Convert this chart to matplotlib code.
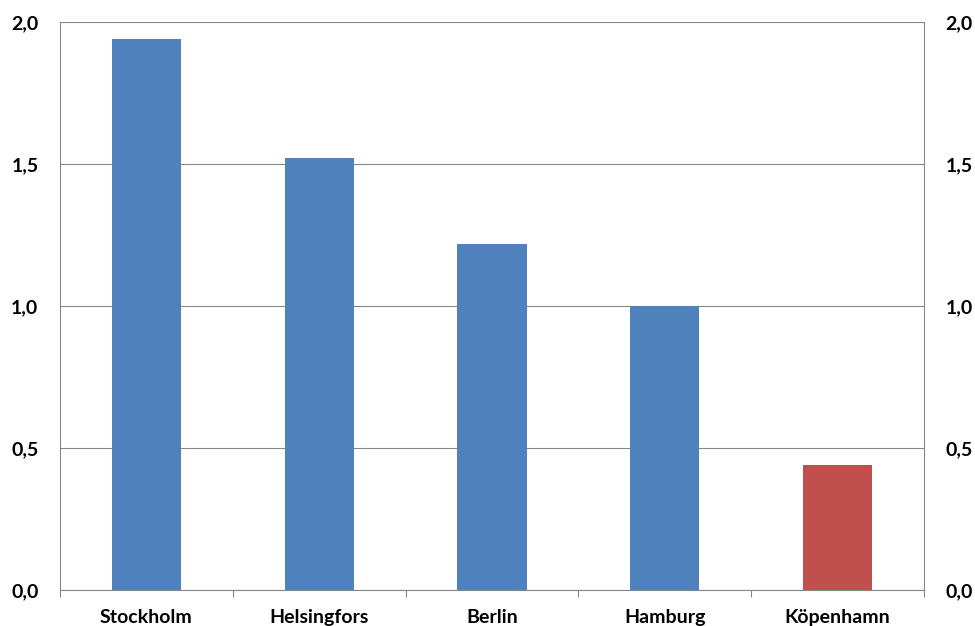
import matplotlib
matplotlib.use("Agg")
import matplotlib.pyplot as plt
from matplotlib.ticker import FixedLocator, FuncFormatter

categories = ["Stockholm", "Helsingfors", "Berlin", "Hamburg", "Köpenhamn"]
values = [1.94, 1.52, 1.22, 1.00, 0.44]
colors = ["#4F81BD", "#4F81BD", "#4F81BD", "#4F81BD", "#C0504D"]
yticks = [0.0, 0.5, 1.0, 1.5, 2.0]

plt.rcParams['font.family'] = ['Lato', 'DejaVu Sans']
plt.rcParams['font.weight'] = 'bold'

fig = plt.figure(figsize=(9.75, 6.26), dpi=100)
ax = fig.add_axes([60/975, 1-590/626, (924-60)/975, (590-22)/626])

x = list(range(len(categories)))
ax.bar(x, values, width=0.4, color=colors, zorder=3)
ax.set_xlim(-0.5, len(categories)-0.5)
ax.set_ylim(0, 2.0)

ax.yaxis.set_major_locator(FixedLocator(yticks))
fmt = FuncFormatter(lambda v, p: f"{v:.1f}".replace(".", ","))
ax.yaxis.set_major_formatter(fmt)
ax.grid(axis='y', color='#868686', linewidth=0.8, zorder=0)

for s in ['left', 'right', 'bottom']:
    ax.spines[s].set_color('#868686')
    ax.spines[s].set_linewidth(0.8)
ax.spines['top'].set_visible(False)

ax.tick_params(axis='y', which='both', length=0, labelsize=14, pad=15.5,
               labelleft=True, labelright=True)

ax.set_xticks(x)
ax.set_xticklabels(categories, fontsize=14, fontweight='bold')
ax.tick_params(axis='x', which='major', length=0, pad=14)
ax.set_xticks([i + 0.5 for i in range(-1, len(categories))], minor=True)
ax.tick_params(axis='x', which='minor', length=5, color='#868686', width=0.8)

fig.savefig("out.png", dpi=100)
